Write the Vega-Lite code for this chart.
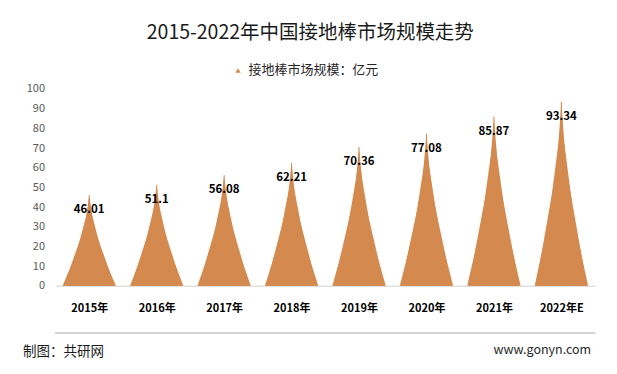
{
  "$schema": "https://vega.github.io/schema/vega-lite/v6.json",
  "width": 539.6,
  "height": 196.7,
  "autosize": "none",
  "padding": {"left": 55.5, "top": 89, "right": 22, "bottom": 88},
  "background": "white",
  "config": {"font": "Noto Sans CJK SC", "view": {"stroke": null}},
  "title": {"text": "2015-2022年中国接地棒市场规模走势", "fontSize": 19.5, "fontWeight": "normal", "color": "#1a1a1a", "anchor": "middle", "dx": -15, "offset": 20},
  "data": {"values": [
    {"year": "2015年", "value": 46.01},
    {"year": "2016年", "value": 51.1},
    {"year": "2017年", "value": 56.08},
    {"year": "2018年", "value": 62.21},
    {"year": "2019年", "value": 70.36},
    {"year": "2020年", "value": 77.08},
    {"year": "2021年", "value": 85.87},
    {"year": "2022年E", "value": 93.34}
  ]},
  "transform": [
    {"joinaggregate": [{"op": "missing", "field": "value", "as": "zero"}]},
    {"fold": ["zero", "value"], "as": ["k", "v"]}
  ],
  "layer": [
    {"mark": {"type": "rule", "color": "#d4d4d4", "strokeWidth": 1},
     "encoding": {
       "y": {"datum": -24, "type": "quantitative", "scale": {"domain": [0, 100], "nice": false}, "axis": null}}},
    {"mark": {"type": "trail", "clip": true, "color": "#D48A4F"},
     "encoding": {
       "x": {"field": "year", "type": "nominal", "sort": null, "scale": {"type": "point", "padding": 0.5},
         "axis": {"title": "制图：共研网", "titleAnchor": "start", "titleAlign": "left", "titleX": -33, "titleY": 66, "titleBaseline": "middle", "titleFontSize": 13.5, "titleFontWeight": "normal", "titleColor": "#1a1a1a",
           "labelAngle": 0, "labelFontSize": 11, "labelFontWeight": "bold", "labelColor": "#000000", "labelPadding": 17, "ticks": false, "domainColor": "#d0d0d0", "domainWidth": 1, "grid": false}},
       "y": {"field": "v", "type": "quantitative", "scale": {"domain": [0, 150], "nice": false}, "axis": null},
       "size": {"field": "k", "type": "ordinal", "scale": {"domain": ["zero", "value"], "range": [53.4, 0]}, "legend": null},
       "detail": {"field": "year"},
       "order": {"field": "k", "sort": "descending"}}},
    {"mark": {"type": "trail", "clip": true, "color": "#D48A4F"},
     "encoding": {
       "x": {"field": "year", "type": "nominal", "sort": null},
       "y": {"field": "v", "type": "quantitative", "scale": {"domain": [0, 128.7], "nice": false}, "axis": null},
       "size": {"field": "k", "type": "ordinal", "scale": {"domain": ["zero", "value"], "range": [50.9, 0]}, "legend": null},
       "detail": {"field": "year"},
       "order": {"field": "k", "sort": "descending"}}},
    {"mark": {"type": "trail", "clip": true, "color": "#D48A4F"},
     "encoding": {
       "x": {"field": "year", "type": "nominal", "sort": null},
       "y": {"field": "v", "type": "quantitative", "scale": {"domain": [0, 113.6], "nice": false}, "axis": null},
       "size": {"field": "k", "type": "ordinal", "scale": {"domain": ["zero", "value"], "range": [42.3, 0]}, "legend": null},
       "detail": {"field": "year"},
       "order": {"field": "k", "sort": "descending"}}},
    {"mark": {"type": "trail", "clip": true, "color": "#D48A4F"},
     "encoding": {
       "x": {"field": "year", "type": "nominal", "sort": null},
       "y": {"field": "v", "type": "quantitative", "scale": {"domain": [0, 104.2], "nice": false}, "axis": null},
       "size": {"field": "k", "type": "ordinal", "scale": {"domain": ["zero", "value"], "range": [26.6, 0]}, "legend": null},
       "detail": {"field": "year"},
       "order": {"field": "k", "sort": "descending"}}},
    {"mark": {"type": "trail", "clip": true},
     "encoding": {
       "x": {"field": "year", "type": "nominal", "sort": null},
       "y": {"field": "v", "type": "quantitative", "scale": {"domain": [0, 100], "nice": false},
         "axis": {"title": "www.gonyn.com", "titleAngle": 0, "titleAlign": "right", "titleX": 535.2, "titleY": 261, "titleBaseline": "middle", "titleFontSize": 12.5, "titleFontWeight": "normal", "titleColor": "#262626",
           "values": [0, 10, 20, 30, 40, 50, 60, 70, 80, 90, 100], "labelFontSize": 11, "labelColor": "#595959", "labelPadding": 11, "ticks": false, "domain": false, "grid": false}},
       "size": {"field": "k", "type": "ordinal", "scale": {"domain": ["zero", "value"], "range": [8, 0]}, "legend": null},
       "color": {"datum": "接地棒市场规模：亿元", "type": "nominal", "scale": {"range": ["#D48A4F"]},
         "legend": {"title": null, "orient": "none", "legendX": 176, "legendY": -25, "symbolType": "triangle-up", "symbolSize": 30, "symbolFillColor": "#D48A4F", "symbolStrokeColor": "#D48A4F", "symbolStrokeWidth": 0, "labelFontSize": 13, "labelColor": "#262626"}},
       "detail": {"field": "year"},
       "order": {"field": "k", "sort": "descending"}}},
    {"transform": [{"filter": {"field": "k", "equal": "value"}}],
     "mark": {"type": "text", "fontWeight": "bold", "fontSize": 11.5, "dy": 15, "baseline": "middle", "color": "#000000"},
     "encoding": {
       "x": {"field": "year", "type": "nominal", "sort": null},
       "y": {"field": "v", "type": "quantitative", "scale": {"domain": [0, 100], "nice": false}, "axis": null},
       "text": {"field": "v", "type": "nominal"}}}
  ],
  "resolve": {"scale": {"y": "independent", "size": "independent"}}
}
